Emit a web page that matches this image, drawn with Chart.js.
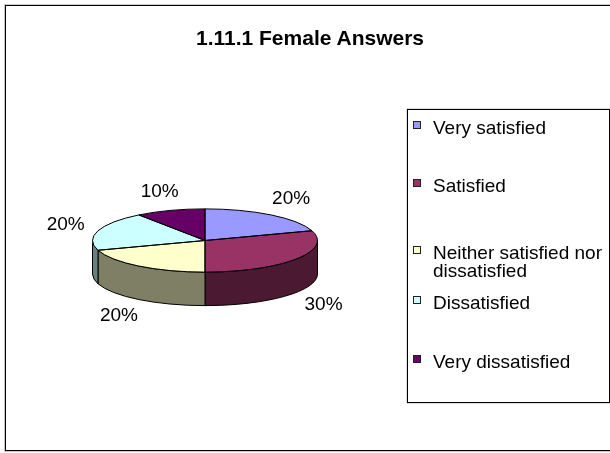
<!DOCTYPE html>
<html>
<head>
<meta charset="utf-8">
<script src="https://cdn.jsdelivr.net/npm/chart.js@4.4.1/dist/chart.umd.min.js"></script>
<style>
  body { margin: 0; background: #fff; }
  #wrap {
    position: relative; width: 610px; height: 453px; overflow: hidden;
    font-family: 'Liberation Sans', Arial, sans-serif; color: #000;
  }
  #frame {
    position: absolute; left: 5px; top: 5px; width: 640px; height: 446px;
    border: 1px solid #000; box-sizing: border-box; box-shadow: 0 0 0 1px #c8c8c8;
  }
  #chart { position: absolute; left: 0; top: 0; }
  #title {
    position: absolute; left: 110px; width: 400px; top: 26px; text-align: center;
    font-weight: bold; font-size: 21px; line-height: 24px;
  }
  #legend {
    position: absolute; left: 407px; top: 109px; width: 203px; height: 294px;
    border: 1px solid #000; box-sizing: border-box; box-shadow: 0 0 0 0.5px #bbb;
  }
  .item { position: absolute; left: 25px; width: 172px; font-size: 19px; line-height: 18px; }
  .item .box {
    position: absolute; left: -20px; top: 2px; width: 6px; height: 6px;
    border: 1px solid #222;
  }
</style>
</head>
<body>
<div id="wrap">
  <div id="frame"></div>
  <canvas id="chart" width="610" height="453"></canvas>
  <div id="title">1.11.1 Female Answers</div>
  <div id="legend"></div>
</div>
<script>
const categories = ['Very satisfied', 'Satisfied', 'Neither satisfied nor dissatisfied', 'Dissatisfied', 'Very dissatisfied']
const values = [20, 30, 20, 20, 10]
const sliceColors = ['#9999FF', '#993366', '#FFFFCC', '#CCFFFF', '#660066']

// darker tone for the pie walls, as Excel does
function darken(hex) {
  const n = parseInt(hex.slice(1), 16)
  const r = (n >> 16) >> 1, g = ((n >> 8) & 255) >> 1, b = (n & 255) >> 1
  return `rgb(${r},${g},${b})`
}
const wallColors = sliceColors.map(darken)

const pie3d = {
  id: 'pie3d',
  beforeDatasetsDraw(chart, args, opts) {
    const ctx = chart.ctx
    const arcs = chart.getDatasetMeta(0).data
    const { x, y, outerRadius: r } = arcs[0]
    const ry = r * opts.tilt
    ctx.save()
    ctx.lineWidth = 1
    ctx.strokeStyle = '#000'
    arcs.forEach((arc, i) => {
      const a = Math.max(arc.startAngle, 0)
      const b = Math.min(arc.endAngle, Math.PI)
      if (a >= b) return
      ctx.beginPath()
      ctx.ellipse(x, y, r, ry, 0, a, b)
      ctx.ellipse(x, y + opts.depth, r, ry, 0, b, a, true)
      ctx.closePath()
      ctx.fillStyle = wallColors[i]
      ctx.fill()
      ctx.stroke()
    })
    ctx.restore()
    ctx.save()
    ctx.translate(x, y)
    ctx.scale(1, opts.tilt)
    ctx.translate(-x, -y)
  },
  afterDatasetsDraw(chart, args, opts) {
    const ctx = chart.ctx
    ctx.restore()
    const arcs = chart.getDatasetMeta(0).data
    const { x, y, outerRadius: r } = arcs[0]
    const ry = r * opts.tilt
    const total = values.reduce((s, v) => s + v, 0)
    ctx.save()
    ctx.lineWidth = 1
    ctx.strokeStyle = '#000'
    arcs.forEach(arc => {
      ctx.beginPath()
      ctx.moveTo(x, y)
      ctx.ellipse(x, y, r, ry, 0, arc.startAngle, arc.endAngle)
      ctx.closePath()
      ctx.stroke()
    })
    ctx.fillStyle = '#000'
    ctx.font = '19px "Liberation Sans", Arial, sans-serif'
    ctx.textAlign = 'center'
    ctx.textBaseline = 'middle'
    arcs.forEach((arc, i) => {
      const mid = (arc.startAngle + arc.endAngle) / 2
      const s = Math.sin(mid)
      const lx = x + (r + 34) * Math.cos(mid)
      const ly = y + (ry + 20) * s + (s > 0 ? opts.depth : 0)
      ctx.fillText(Math.round(values[i] / total * 100) + '%', lx, ly)
    })
    ctx.restore()
  }
}

new Chart(document.getElementById('chart'), {
  type: 'pie',
  data: {
    labels: categories,
    datasets: [{
      data: values,
      backgroundColor: sliceColors,
      borderWidth: 0
    }]
  },
  options: {
    responsive: false,
    devicePixelRatio: 1,
    animation: false,
    events: [],
    radius: 112.5,
    layout: { padding: { left: 0, right: 200, top: 28, bottom: 0 } },
    plugins: {
      legend: { display: false },
      tooltip: { enabled: false },
      pie3d: { tilt: 0.281, depth: 33.5 }
    }
  },
  plugins: [pie3d]
})

// legend
const legend = document.getElementById('legend')
categories.forEach((name, i) => {
  const item = document.createElement('div')
  item.className = 'item'
  const box = document.createElement('span')
  box.className = 'box'
  box.style.background = sliceColors[i]
  item.appendChild(box)
  item.appendChild(document.createTextNode(name))
  legend.appendChild(item)
  const shift = item.offsetHeight > 20 ? 8 : 0
  item.style.top = (8.7 + i * 58.5 + shift) + 'px'
})
</script>
</body>
</html>
